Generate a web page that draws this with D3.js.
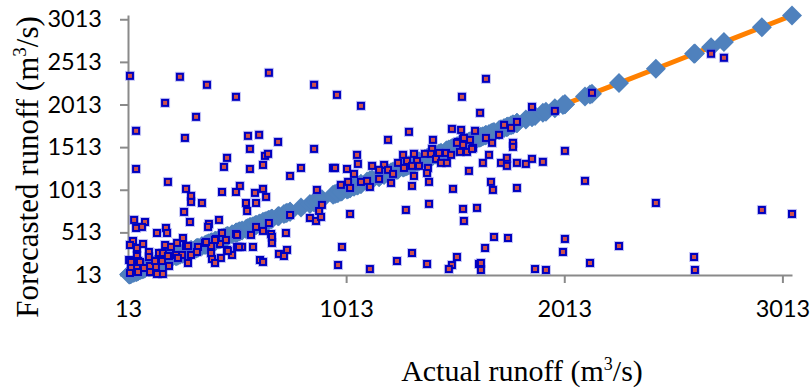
<!DOCTYPE html>
<html>
<head>
<meta charset="utf-8">
<script src="https://cdn.jsdelivr.net/npm/d3@7"></script>
<style>
  html, body { margin: 0; padding: 0; background: #fff; }
  svg { display: block; }
</style>
</head>
<body>
<svg id="chart" width="811" height="389"></svg>
<script>
// Observed (actual) runoff and the model's forecast for the same events, m3/s
const actual = [
  22, 251, 375, 183, 508, 659, 325, 50, 274, 563, 614, 701, 866, 971, 572, 866, 467, 641, 655, 50,
  453, 572, 632, 756, 806, 953, 962, 1017, 1049, 1063, 1067, 1081, 1544, 1627, 1654, 1205, 1301, 1411, 1498, 1540,
  1604, 1549, 1581, 1526, 196, 279, 302, 302, 352, 444, 508, 270, 297, 41, 91, 77, 50, 146, 187, 192,
  265, 384, 380, 430, 444, 508, 416, 366, 462, 36, 22, 82, 54, 183, 210, 238, 279, 334, 394, 435,
  412, 467, 490, 513, 18, 54, 59, 109, 109, 155, 160, 201, 233, 261, 302, 329, 394, 398, 439, 412,
  288, 201, 169, 141, 114, 86, 54, 27, 22, 59, 114, 146, 173, 68, 27, 137, 173, 526, 595, 632,
  646, 554, 600, 559, 513, 577, 600, 632, 659, 669, 673, 673, 737, 756, 847, 875, 898, 889, 902, 879,
  989, 1022, 1031, 1031, 994, 976, 742, 705, 728, 618, 632, 586, 536, 522, 471, 371, 288, 242, 196, 1132,
  1187, 1164, 1205, 1228, 1274, 1251, 1292, 1324, 1338, 1315, 1347, 1388, 1384, 1324, 1278, 1374, 1407, 1402, 1425, 1439,
  1471, 1448, 1475, 1494, 1521, 1549, 1535, 1567, 1595, 1553, 1576, 1081, 1109, 1164, 1219, 1122, 1315, 1393, 1503, 1287,
  1393, 1549, 1553, 1613, 1315, 1246, 1384, 1521, 1498, 1484, 1122, 1622, 1865, 1970, 1737, 1769, 1796, 1654, 1682, 1714,
  1590, 1778, 1778, 1668, 1640, 1723, 1750, 1750, 1796, 1837, 1865, 1915, 2016, 2108, 1677, 1686, 1796, 1691, 1755, 1650,
  2016, 2007, 1631, 1631, 1879, 1929, 2131, 2433, 2919, 3057, 2264, 2608, 2612, 2140, 2686, 2745
];
const forecast = [
  2349, 2338, 2244, 2032, 2103, 2385, 1868, 1704, 1621, 1645, 1657, 1574, 2244, 2126, 1492, 1492, 1387, 1410, 1434, 1257,
  1281, 1257, 1304, 1175, 1269, 1269, 1269, 1257, 1199, 1422, 1316, 1997, 2103, 1915, 2314, 1598, 1692, 1598, 1727, 1715,
  1704, 1610, 1598, 1574, 1105, 1023, 941, 870, 858, 987, 987, 753, 635, 659, 635, 577, 565, 506, 565, 506,
  447, 612, 577, 659, 506, 494, 436, 389, 424, 412, 365, 377, 330, 365, 342, 389, 353, 342, 353, 377,
  424, 307, 248, 342, 189, 236, 177, 283, 224, 271, 189, 236, 248, 248, 248, 283, 271, 201, 213, 154,
  154, 119, 177, 107, 119, 95, 95, 107, 37, 48, 48, 25, 25, 166, 166, 177, 271, 1058, 976, 1023,
  929, 858, 858, 764, 483, 483, 577, 530, 623, 494, 459, 389, 506, 717, 682, 647, 694, 764, 835, 1011,
  1070, 1105, 1034, 729, 342, 130, 307, 260, 236, 189, 166, 342, 342, 342, 295, 400, 353, 213, 236, 1293,
  1304, 1246, 1246, 1199, 1422, 1328, 1351, 1434, 1351, 1293, 1293, 1269, 1210, 1175, 1269, 1434, 1492, 1434, 1375, 1445,
  1445, 1328, 1328, 1422, 1563, 1539, 1457, 1457, 1504, 1621, 1234, 1105, 1117, 1140, 1093, 1046, 1058, 1105, 1023, 776,
  847, 788, 647, 800, 271, 177, 142, 224, 130, 83, 83, 142, 1985, 1938, 1774, 1739, 1809, 1621, 1563, 1657,
  1492, 1563, 1516, 1422, 1328, 1328, 1387, 1293, 1328, 1316, 1375, 1340, 1469, 1117, 1105, 1011, 1034, 459, 447, 330,
  436, 283, 154, 72, 83, 72, 154, 858, 776, 729, 353, 224, 72, 2150, 2608, 2561
];
const xTickValues = [13, 1013, 2013, 3013];
const yTickValues = [13, 513, 1013, 1513, 2013, 2513, 3013];

const svg = d3.select("#chart");

const x = d3.scaleLinear().domain([13, 3057]).range([128, 792]);
const y = d3.scaleLinear().domain([13, 3063]).range([275, 15]);

const axisColor = "#8a8a8a";
const tickFont = "Lato, 'Open Sans', sans-serif";
const titleFont = "'Liberation Serif', 'Times New Roman', serif";

// Axes
const gx = svg.append("g")
  .attr("transform", `translate(0,${y(13)})`)
  .call(d3.axisBottom(x).tickValues(xTickValues).tickFormat(d3.format("d"))
    .tickSize(8).tickSizeOuter(0).tickPadding(17));
const gy = svg.append("g")
  .attr("transform", `translate(${x(13)},0)`)
  .call(d3.axisLeft(y).tickValues(yTickValues).tickFormat(d3.format("d"))
    .tickSize(8).tickSizeOuter(0).tickPadding(18));

[gx, gy].forEach(g => {
  g.select(".domain").attr("stroke", axisColor).attr("stroke-width", 2);
  g.selectAll(".tick line").attr("stroke", axisColor).attr("stroke-width", 2);
  g.selectAll(".tick text").attr("fill", "#000")
    .style("font-family", tickFont).style("font-size", "23.5px");
});

// Reference line through the (actual, actual) pairs
const pairs = actual.map((a, i) => ({ a, f: forecast[i] }));
const sorted = pairs.slice().sort((p, q) => p.a - q.a);
svg.append("path")
  .datum(sorted)
  .attr("fill", "none")
  .attr("stroke", "#ff8000")
  .attr("stroke-width", 5)
  .attr("d", d3.line().x(d => x(d.a)).y(d => y(d.a)));

// Diamond markers on the 1:1 line
const dHalf = 10;
svg.append("g").selectAll("path")
  .data(sorted)
  .join("path")
  .attr("transform", d => `translate(${x(d.a)},${y(d.a)})`)
  .attr("d", `M0,${-dHalf}L${dHalf},0L0,${dHalf}L${-dHalf},0Z`)
  .attr("fill", "#4f81bd");

// Forecast vs actual squares
const pts = svg.append("g");
pts.selectAll("rect.halo")
  .data(pairs)
  .join("rect")
  .attr("class", "halo")
  .attr("x", d => x(d.a) - 5).attr("y", d => y(d.f) - 5)
  .attr("width", 10).attr("height", 10)
  .attr("fill", "rgba(90,90,230,0.35)");
pts.selectAll("rect.pt")
  .data(pairs)
  .join("rect")
  .attr("class", "pt")
  .attr("x", d => x(d.a) - 3).attr("y", d => y(d.f) - 3)
  .attr("width", 6).attr("height", 6)
  .attr("fill", "#d0504a")
  .attr("stroke", "#0000bf")
  .attr("stroke-width", 2);

// Axis titles
const xt = svg.append("text")
  .attr("x", 522).attr("y", 381)
  .attr("text-anchor", "middle")
  .style("font-family", titleFont).style("font-size", "30px").attr("fill", "#000");
xt.append("tspan").text("Actual runoff (m");
xt.append("tspan").attr("dy", -11).style("font-size", "18px").text("3");
xt.append("tspan").attr("dy", 11).text("/s)");

const yt = svg.append("text")
  .attr("transform", "translate(38,167) rotate(-90)")
  .attr("text-anchor", "middle")
  .style("font-family", titleFont).style("font-size", "31px").attr("fill", "#000");
yt.append("tspan").text("Forecasted runoff (m");
yt.append("tspan").attr("dy", -12).style("font-size", "19px").text("3");
yt.append("tspan").attr("dy", 12).text("/s)");
</script>
</body>
</html>
